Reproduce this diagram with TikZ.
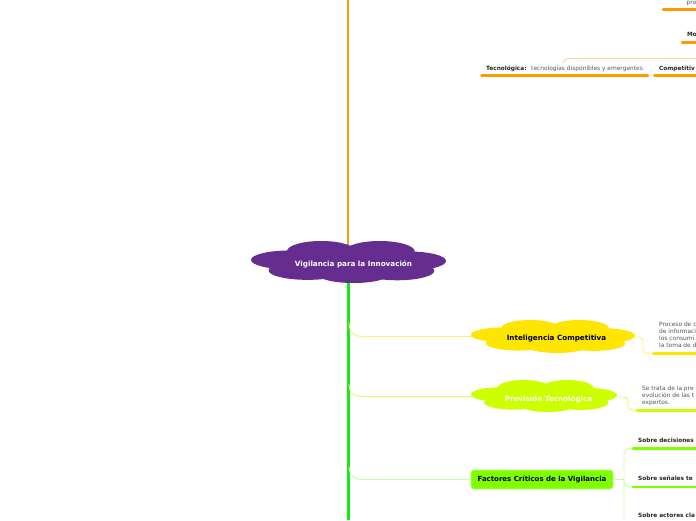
\documentclass[tikz,border=0pt]{standalone}
\usepackage{fontspec}
\setmainfont{DejaVu Sans}
\definecolor{orng}{RGB}{255,153,0}
\definecolor{purp}{RGB}{102,45,145}
\definecolor{yel}{RGB}{255,230,0}
\definecolor{ygreen}{RGB}{204,255,0}
\definecolor{limeg}{RGB}{128,255,0}
\definecolor{limeb}{RGB}{170,255,100}
\definecolor{trunkg}{RGB}{20,235,20}
\definecolor{descg}{RGB}{85,85,85}
\definecolor{cyel}{RGB}{255,238,120}
\definecolor{cyg}{RGB}{220,255,110}
\definecolor{clg}{RGB}{200,255,160}
\definecolor{corng}{RGB}{255,215,150}
\newcommand\mycloud[5]{%
  \begin{scope}[shift={(#1,#2)},xscale=#3,yscale=#4]
    \fill[#5] (-0.6,-0.1) ellipse [x radius=0.4, y radius=0.45];
    \fill[#5] (-0.28,-0.52) ellipse [x radius=0.35, y radius=0.48];
    \fill[#5] (0.32,-0.5) ellipse [x radius=0.36, y radius=0.5];
    \fill[#5] (0.62,-0.05) ellipse [x radius=0.38, y radius=0.45];
    \fill[#5] (-0.42,0.4) ellipse [x radius=0.4, y radius=0.45];
    \fill[#5] (0.05,0.6) ellipse [x radius=0.36, y radius=0.4];
    \fill[#5] (0.5,0.42) ellipse [x radius=0.38, y radius=0.45];
    \fill[#5] (0,0) ellipse [x radius=0.7, y radius=0.6];
  \end{scope}}
\begin{document}
\begin{tikzpicture}[x=1pt,y=-1pt,
  bigbold/.style={font=\fontsize{7.2}{8}\selectfont\bfseries, inner sep=0pt},
  smallbold/.style={font=\fontsize{5.8}{7}\selectfont\bfseries, inner sep=0pt, text=black!85},
  desc/.style={font=\fontsize{5.9}{7}\selectfont, text=descg, inner sep=0pt},
  uline/.style={line width=2.6pt, line cap=round},
  conn/.style={line width=0.9pt}]
\useasboundingbox (0,0) rectangle (696,520);
\fill[white] (0,0) rectangle (696,520);

% trunk
\coordinate (topend) at (348.3,0);
\coordinate (ctop) at (348.3,246);
\coordinate (cbot) at (348.7,280);
\coordinate (botend) at (348.7,520);
\draw[orng, line width=2pt] (topend) -- (ctop);
\draw[trunkg, line width=2.7pt] (cbot) -- (botend);

% central cloud
\mycloud{348.5}{262}{97.5}{21}{purp}
\node[bigbold, text=white, anchor=base] (root) at (353.5,266.6) {Vigilancia para la Innovación};

% top area
\node[desc, anchor=base west] (pro) at (686.5,4) {pro};
\coordinate (proL) at (663,9.7); \coordinate (proR) at (700,9.7);
\draw[orng, uline] (proL) -- (proR);
\node[smallbold, anchor=base west] (mo) at (687,36.2) {Mo};
\coordinate (moL) at (682,42.6); \coordinate (moR) at (700,42.6);
\draw[orng, uline] (moL) -- (moR);
\node[smallbold, anchor=base west] (tec) at (486,70.2) {Tecnológica:};
\node[desc, anchor=base west] (tecd) at (531,70.2) {tecnologías disponibles y emergentes};
\coordinate (tecL) at (481.5,75.6); \coordinate (tecR) at (648,75.6);
\draw[orng, uline] (tecL) -- (tecR);
\node[smallbold, anchor=base west] (comp) at (659,70.2) {Competitiv};
\coordinate (compL) at (654.5,75.6); \coordinate (compR) at (700,75.6);
\draw[orng, uline] (compL) -- (compR);
\coordinate (tecTop) at (563,63); \coordinate (edgeR) at (696,58.5);
\draw[corng, conn] (tecTop) .. controls (565,58.5) .. (578,58.5) -- (edgeR);

% Inteligencia Competitiva
\coordinate (t1) at (349,322);
\coordinate (icL) at (472,336.5);
\draw[cyel, conn, rounded corners=12pt] (t1) |- (icL);
\mycloud{553}{336.5}{82}{16.5}{yel}
\node[bigbold, text=black, anchor=base] (ic) at (556.5,340.3) {Inteligencia Competitiva};
\coordinate (icR) at (634,337);
\coordinate (u1L) at (653.5,353.2); \coordinate (u1R) at (700,353.2);
\draw[cyel, conn, rounded corners=4pt] (icR) -- (643,337) -- (643,353.2) -- (u1L);
\draw[yel, uline] (u1L) -- (u1R);
\node[desc, anchor=base west] (d1a) at (659,326.2) {Proceso de c};
\node[desc, anchor=base west] (d1b) at (659,333.2) {de informaci};
\node[desc, anchor=base west] (d1c) at (659,340.2) {los consumi};
\node[desc, anchor=base west] (d1d) at (659,347.2) {la toma de d};

% Prevision Tecnologica
\coordinate (t2) at (349,384);
\coordinate (ptL) at (472,396.5);
\draw[cyg, conn, rounded corners=11pt] (t2) |- (ptL);
\mycloud{544}{396}{73}{16}{ygreen}
\node[bigbold, text=white, anchor=base] (pt) at (548.5,401.5) {Previsión Tecnológica};
\coordinate (ptR) at (617,397);
\coordinate (u2L) at (637,410.2); \coordinate (u2R) at (700,410.2);
\draw[cyg, conn, rounded corners=4pt] (ptR) -- (628,397) -- (628,410.2) -- (u2L);
\draw[ygreen, uline] (u2L) -- (u2R);
\node[desc, anchor=base west] (d2a) at (642,390.7) {Se trata de la pre};
\node[desc, anchor=base west] (d2b) at (642,397.5) {evolución de las t};
\node[desc, anchor=base west] (d2c) at (642,404.6) {expertos.};

% Factores Criticos
\coordinate (t3) at (349,467);
\node[fill=limeg, draw=limeb, line width=0.6pt, rounded corners=3pt, minimum width=142pt, minimum height=19pt, inner sep=0pt, font=\fontsize{7}{8}\selectfont\bfseries] (fc) at (542,479.5) {Factores Críticos de la Vigilancia};
\draw[clg, conn, rounded corners=12pt] (t3) |- (fc.west);
\coordinate (fork) at (624,479.5);
\coordinate (v1) at (633,448.3); \coordinate (v1R) at (700,448.3);
\coordinate (v2) at (633,486.8); \coordinate (v2R) at (700,486.8);
\coordinate (vend) at (624,520);
\draw[clg, conn] (fc.east) -- (fork);
\draw[clg, conn, rounded corners=6pt] (vend) |- (v1);
\draw[clg, conn, rounded corners=5pt] (fork) |- (v2);
\draw[limeg, uline] (v1) -- (v1R);
\draw[limeg, uline] (v2) -- (v2R);
\node[smallbold, anchor=base west] (s1) at (638,442.2) {Sobre decisiones};
\node[smallbold, anchor=base west] (s2) at (638,480.5) {Sobre señales te};
\node[smallbold, anchor=base west] (s3) at (638,517.9) {Sobre actores cla};
\end{tikzpicture}
\end{document}
